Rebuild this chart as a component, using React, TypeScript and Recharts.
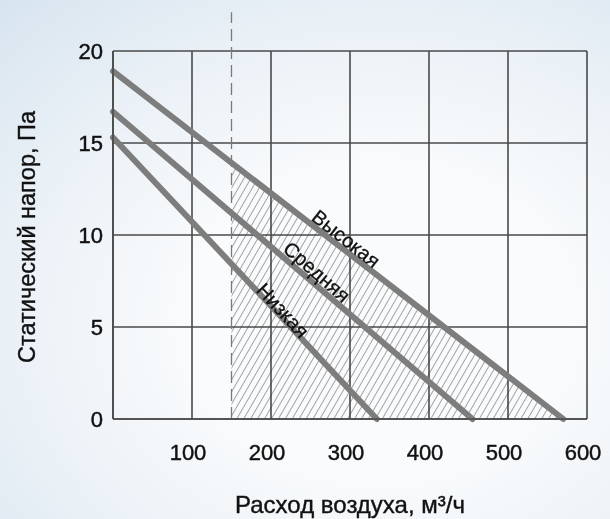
import {
  Area,
  CartesianGrid,
  ComposedChart,
  Label,
  Line,
  ReferenceDot,
  ReferenceLine,
  XAxis,
  YAxis
} from "recharts";

// airflow, m3/h  -> static pressure, Pa
const highCurve = [
  { x: 0, y: 18.9 },
  { x: 570, y: 0 }
];
const midCurve = [
  { x: 0, y: 16.7 },
  { x: 455, y: 0 }
];
const lowCurve = [
  { x: 0, y: 15.3 },
  { x: 334, y: 0 }
];
// working zone: from the minimum airflow up to the "high" curve
const workZone = [
  { x: 150, y: 13.9 },
  { x: 570, y: 0 }
];
const minFlow = 150;

const xTicks = [0, 100, 200, 300, 400, 500, 600];
const yTicks = [0, 5, 10, 15, 20];

const curveLabels = [
  { text: "Высокая", x: 295, y: 9.8, angle: 38 },
  { text: "Средняя", x: 258, y: 8.0, angle: 41 },
  { text: "Низкая", x: 215, y: 5.9, angle: 47 }
];

const FONT = "'Liberation Sans', Arial, Helvetica, sans-serif";
const GRID = "#4a4a4a";
const CURVE = "#7d7d7d";
const INK = "#111";

export default function App() {
  return (
    <div
      style={{
        position: "fixed",
        left: 0,
        top: 0,
        width: 610,
        height: 519,
        background: "radial-gradient(ellipse 90% 85% at 62% 62%, #f9fbfc 35%, #e9f0f6 70%, #d7e4ef 100%)",
        fontFamily: FONT
      }}
    >
      <ComposedChart width={610} height={519} margin={{ top: 51, right: 23, bottom: 0, left: 0 }}>
        <defs>
          <pattern id="hatch" width="6" height="10" patternUnits="userSpaceOnUse" patternTransform="rotate(30)">
            <line x1="0" y1="0" x2="0" y2="10" stroke="#3a3a3a" strokeWidth={0.9} />
          </pattern>
        </defs>
        <CartesianGrid stroke={GRID} strokeWidth={1.6} />
        <XAxis
          type="number"
          dataKey="x"
          domain={[0, 600]}
          ticks={xTicks}
          tickFormatter={(v) => (v === 0 ? "" : String(v))}
          axisLine={{ stroke: GRID, strokeWidth: 1.6 }}
          tickLine={false}
          tickSize={0}
          tickMargin={25}
          height={100}
          tick={{ fill: INK, stroke: INK, strokeWidth: 0.45, fontSize: 22, fontFamily: FONT, dx: -4 }}
        >
          <Label
            value="Расход воздуха, м³/ч"
            position="insideBottom"
            offset={6}
            style={{ fill: INK, stroke: INK, strokeWidth: 0.4, fontSize: 24, fontFamily: FONT }}
          />
        </XAxis>
        <YAxis
          type="number"
          domain={[0, 20]}
          ticks={yTicks}
          axisLine={{ stroke: GRID, strokeWidth: 1.6 }}
          tickLine={false}
          tickSize={0}
          tickMargin={10}
          width={113}
          tick={{ fill: INK, stroke: INK, strokeWidth: 0.45, fontSize: 22, fontFamily: FONT }}
        >
          <Label
            content={() => (
              <text
                x={27}
                y={237}
                transform="rotate(-90 27 237)"
                textAnchor="middle"
                dominantBaseline="central"
                fill={INK}
                stroke={INK}
                strokeWidth={0.4}
                fontSize={23.5}
                fontFamily={FONT}
              >
                Статический напор, Па
              </text>
            )}
          />
        </YAxis>
        <Area
          data={workZone}
          dataKey="y"
          type="linear"
          stroke="none"
          fill="url(#hatch)"
          fillOpacity={1}
          isAnimationActive={false}
          activeDot={false}
        />
        <ReferenceLine
          segment={[
            { x: minFlow, y: 0 },
            { x: minFlow, y: 22.1 }
          ]}
          ifOverflow="visible"
          stroke="#7a7a7a"
          strokeWidth={1.3}
          strokeDasharray="12 6"
        />
        {[highCurve, midCurve, lowCurve].map((d, i) => (
          <Line
            key={i}
            data={d}
            dataKey="y"
            type="linear"
            stroke={CURVE}
            strokeWidth={6}
            strokeLinecap="round"
            dot={false}
            activeDot={false}
            isAnimationActive={false}
          />
        ))}
        {curveLabels.map((l) => (
          <ReferenceDot
            key={l.text}
            x={l.x}
            y={l.y}
            r={0}
            ifOverflow="visible"
            shape={(p: any) => (
              <text
                x={p.cx}
                y={p.cy}
                transform={`rotate(${l.angle} ${p.cx} ${p.cy})`}
                textAnchor="middle"
                dominantBaseline="central"
                fill={INK}
                stroke={INK}
                strokeWidth={0.3}
                fontSize={20}
                fontFamily={FONT}
              >
                {l.text}
              </text>
            )}
          />
        ))}
      </ComposedChart>
    </div>
  );
}
